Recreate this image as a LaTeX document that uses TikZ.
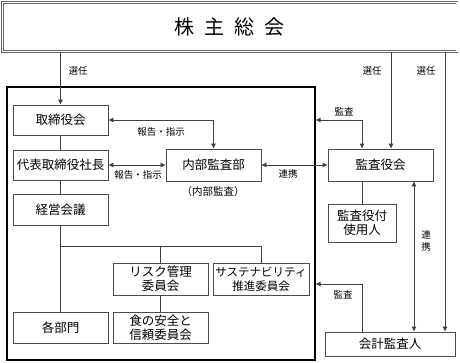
\documentclass[tikz,border=0pt]{standalone}
\usepackage{fontspec}
\setmainfont{Noto Sans CJK JP}
\usetikzlibrary{arrows.meta}
\begin{document}
\begin{tikzpicture}[x=1pt,y=-1pt,
  box/.style={draw=black!70,line width=0.7pt,fill=white,inner sep=0pt,font=\fontsize{12.5}{14}\selectfont,align=center},
  lbl/.style={font=\fontsize{9.5}{11}\selectfont,inner sep=0pt},
  conn/.style={draw=black!75,line width=0.7pt},
  arr/.style={conn,-{Latex[length=5pt,width=5pt]}},
  darr/.style={conn,{Latex[length=5pt,width=5pt]}-{Latex[length=5pt,width=5pt]}}]
\useasboundingbox (0,0) rectangle (460,362);
% top
\node[draw=black!60,line width=0.6pt,double,double distance=1.2pt,minimum width=454.5pt,minimum height=49pt,inner sep=0pt] (sou) at (229.75,27)
  {\fontsize{20}{22}\selectfont 株\hspace{10pt}主\hspace{10pt}総\hspace{10pt}会};
% corporate frame
\node[draw=black,line width=1.1pt,minimum width=308pt,minimum height=273pt,inner sep=0pt] (corp) at (161,223.5) {};
% boxes
\node[box,minimum width=95pt,minimum height=30pt] (tori) at (60.5,120) {取締役会};
\node[box,minimum width=95pt,minimum height=30pt] (daihyo) at (60.5,165) {代表取締役社長};
\node[box,minimum width=95pt,minimum height=31pt] (keiei) at (60.5,209.5) {経営会議};
\node[box,minimum width=95pt,minimum height=31pt] (kakubu) at (60.5,327.5) {各部門};
\node[box,minimum width=95pt,minimum height=32pt] (risk) at (160.5,279) {リスク管理\\委員会};
\node[box,minimum width=95pt,minimum height=31pt] (shoku) at (160.5,327.5) {食の安全と\\信頼委員会};
\node[box,minimum width=96pt,minimum height=32pt,font=\fontsize{11.5}{14}\selectfont] (sus) at (261,279) {サステナビリティ\\推進委員会};
\node[box,minimum width=95pt,minimum height=32pt] (naibu) at (213.5,165) {内部監査部};
\node[lbl,font=\fontsize{10.5}{12}\selectfont] (naibul) at (213,192) {（内部監査）};
\node[box,minimum width=105pt,minimum height=32pt] (kansa) at (380.5,165) {監査役会};
\node[box,minimum width=68pt,minimum height=38pt] (shiyo) at (362,223) {監査役付\\使用人};
\node[box,minimum width=130pt,minimum height=24pt] (kaikei) at (390,344) {会計監査人};
% coordinates
\coordinate (xa) at (391,0);
\coordinate (xb) at (414,0);
\coordinate (xc) at (445,0);
\coordinate (j) at (60.5,246);
\coordinate (ya) at (0,284);
% connectors
\draw[arr] (sou.south -| tori.north) -- (tori.north);
\draw[conn] (tori) -- (daihyo);
\draw[conn] (daihyo) -- (keiei);
\draw[conn] (keiei) -- (kakubu);
\draw[conn] (j) -| (sus.north);
\draw[conn] (risk.north |- j) -- (risk.north);
\draw[conn] (risk) -- (shoku);
\draw[darr] (tori.east) -| (naibu.north);
\draw[darr] (daihyo.east) -- (naibu.west);
\draw[darr] (naibu.east) -- (kansa.west);
\draw[darr] (corp.east |- tori.east) -| (shiyo.north |- kansa.north);
\draw[arr] (sou.south -| xa) -- (kansa.north -| xa);
\draw[conn] (kansa.south -| shiyo.north) -- (shiyo.north);
\draw[darr] (kansa.south -| xb) -- (kaikei.north -| xb);
\draw[arr] (sou.south -| xc) -- (kaikei.north -| xc);
\draw[arr] (kaikei.north -| shiyo.north) -- (shiyo.north |- ya) -- (corp.east |- ya);
% labels
\node[lbl] (l1) at (78,71) {選任};
\node[lbl] (l2) at (372,71) {選任};
\node[lbl] (l3) at (426,71) {選任};
\node[lbl] (l4) at (161,132) {報告・指示};
\node[lbl] (l5) at (138,175) {報告・指示};
\node[lbl] (l6) at (288,174) {連携};
\node[lbl] (l7) at (344,112) {監査};
\node[lbl,align=center,font=\fontsize{9.5}{12}\selectfont] (l8) at (426,241) {連\\携};
\node[lbl] (l9) at (343,295) {監査};
\end{tikzpicture}
\end{document}
